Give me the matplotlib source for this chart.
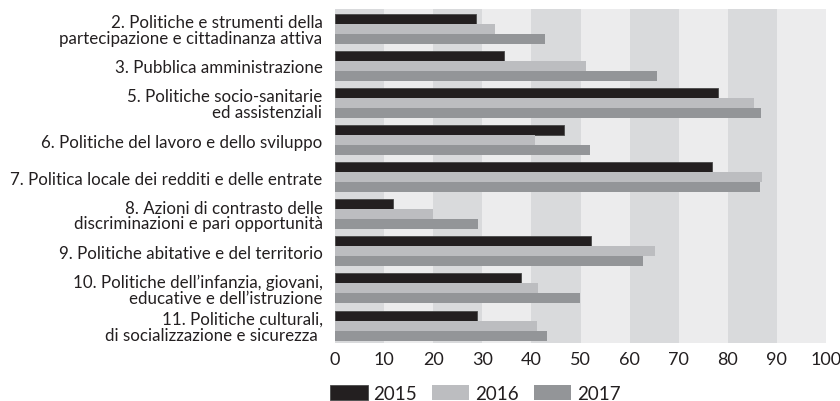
import numpy as np
import matplotlib
matplotlib.use("Agg")
import matplotlib.pyplot as plt

plt.rcParams['font.family'] = ['Lato', 'DejaVu Sans']

categories = [
    "2. Politiche e strumenti della\npartecipazione e cittadinanza attiva",
    "3. Pubblica amministrazione",
    "5. Politiche socio-sanitarie\ned assistenziali",
    "6. Politiche del lavoro e dello sviluppo",
    "7. Politica locale dei redditi e delle entrate",
    "8. Azioni di contrasto delle\ndiscriminazioni e pari opportunità",
    "9. Politiche abitative e del territorio",
    "10. Politiche dell\u2019infanzia, giovani,\neducative e dell\u2019istruzione",
    "11. Politiche culturali,\ndi socializzazione e sicurezza ",
]
years = ["2015", "2016", "2017"]
v2015 = [28.7, 34.5, 78.1, 46.7, 76.8, 11.9, 52.1, 37.9, 29.0]
v2016 = [32.5, 51.1, 85.4, 40.7, 87.0, 20.0, 65.2, 41.3, 41.1]
v2017 = [42.8, 65.6, 86.8, 52.0, 86.5, 29.1, 62.7, 49.9, 43.1]
xticks = list(range(0, 101, 10))

colors = ["#231f20", "#bcbdc0", "#939598"]
txt = "#231f20"

fig = plt.figure(figsize=(8.4, 4.02), dpi=100)
ax = fig.add_axes([335 / 840, 1 - 344 / 402, (826 - 335) / 840, (344 - 10) / 402])

# alternating background bands
for i in range(10):
    ax.axvspan(i * 10, i * 10 + 10, color="#d9dadc" if i % 2 == 0 else "#ececed",
               lw=0, zorder=0)

y = np.arange(len(categories))
h = 0.27
for k, (vals, c) in enumerate(zip([v2015, v2016, v2017], colors)):
    ax.barh(y + (k - 1) * h, vals, height=h, color=c, label=years[k], zorder=2,
            edgecolor="#4a4a4a" if k == 0 else c, linewidth=0.6 if k == 0 else 0)

ax.set_xlim(0, 100)
ax.set_ylim(8.47, -0.53)
ax.set_xticks(xticks)
ax.set_xticklabels([str(t) for t in xticks], fontsize=13, color=txt)
ax.set_yticks(y)
ax.set_yticklabels(categories, fontsize=12.2, color=txt, linespacing=0.98)
ax.tick_params(axis="both", length=0)
ax.tick_params(axis="x", pad=6)
ax.tick_params(axis="y", pad=9)
for s in ax.spines.values():
    s.set_visible(False)

fig.legend(loc="upper left", bbox_to_anchor=(330 / 840, 1 - 386 / 402), ncol=3,
           frameon=False, fontsize=13.5, handlelength=2.0, handleheight=0.8,
           handletextpad=0.3, columnspacing=0.8, labelcolor=txt,
           borderpad=0, borderaxespad=0)

fig.savefig("out.png", dpi=100)
